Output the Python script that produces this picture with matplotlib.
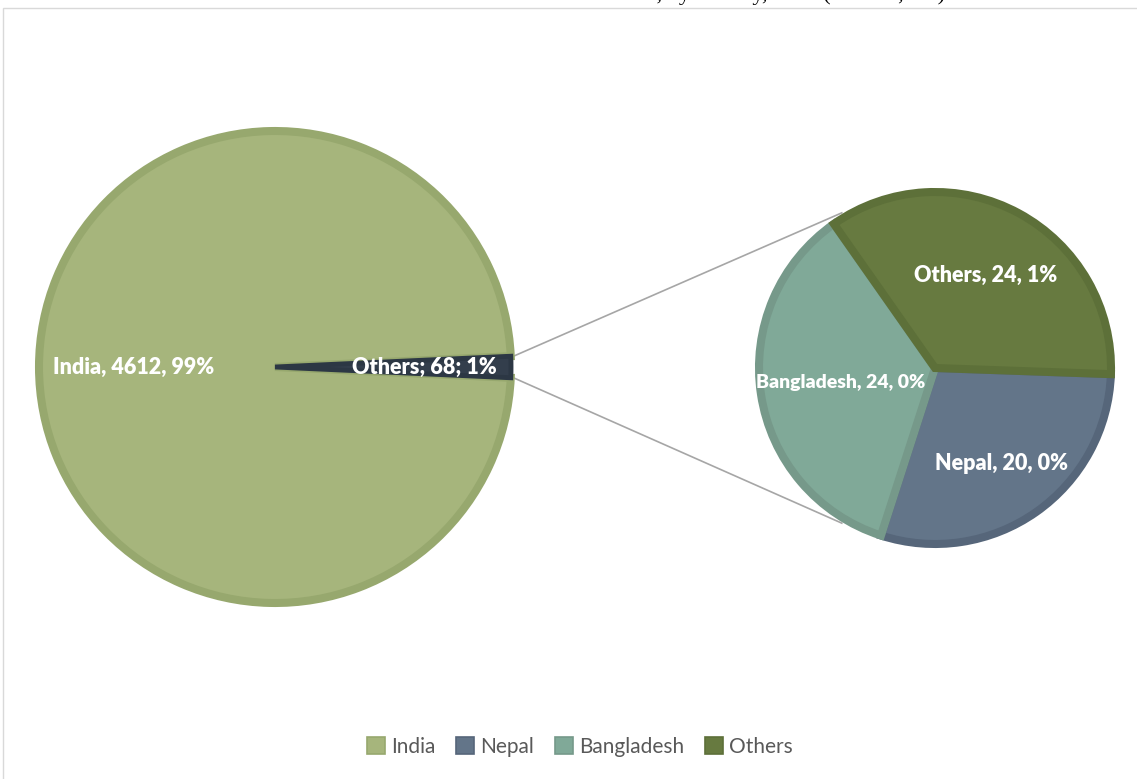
"""Pie-of-pie chart: remittances by country."""

import matplotlib

matplotlib.use("Agg")

import matplotlib.pyplot as plt
import numpy as np
from matplotlib.patches import Patch, Rectangle

W, H = 1137, 779

main_labels = ["Others", "India"]
main_values = [68, 4612]
main_pcts = ["1%", "99%"]
main_texts = ["Others; 68; 1%", "India, 4612, 99%"]

sub_labels = ["Nepal", "Bangladesh", "Others"]
sub_values = [20, 24, 24]
sub_pcts = ["0%", "0%", "1%"]

legend_labels = ["India", "Nepal", "Bangladesh", "Others"]

title = "Remittance inflows, by country, 2014 (in USD, mn)"

fill = {"India": "#A6B57C", "Nepal": "#637589", "Bangladesh": "#80A998", "Others": "#677A40",
        "OthersMain": "#333E4C"}
edge = {"India": "#97A86E", "Nepal": "#56667A", "Bangladesh": "#76998A", "Others": "#5D7039",
        "OthersMain": "#2C3744"}

LABEL_FONT = ["Lato", "DejaVu Sans"]


def set_edges(wedges, keys):
    for w, k in zip(wedges, keys):
        w.set_facecolor(fill[k])
        w.set_edgecolor(edge[k])


def polar(cx, cy, r, deg):
    a = np.deg2rad(deg)
    return cx + r * np.cos(a), cy + r * np.sin(a)


fig = plt.figure(figsize=(W / 100, H / 100), dpi=100)
ax = fig.add_axes([0, 0, 1, 1])

# main pie
mc = (275, H - 367)
mr = 236
start = -main_values[0] / sum(main_values) * 180
mw, _ = ax.pie(main_values, startangle=start, center=mc, radius=mr,
               wedgeprops=dict(linewidth=5.8))
set_edges(mw, ["OthersMain", "India"])
mw[0].set_zorder(3)
mw[0].set_linewidth(3.5)
for w, txt, dist in zip(mw, main_texts, [0.635, 0.60]):
    mid = (w.theta1 + w.theta2) / 2
    x, y = polar(mc[0], mc[1], mr * dist, mid)
    ax.text(x, y, txt, ha="center", va="center", color="white", fontsize=15.5,
            fontweight="heavy", family=LABEL_FONT, zorder=5)

# secondary pie
sc = (935, H - 368)
sr = 176
sw, _ = ax.pie(sub_values, startangle=-2, counterclock=False, center=sc, radius=sr,
               wedgeprops=dict(linewidth=5.8))
set_edges(sw, sub_labels)
for w, lab, val, pct, dist, fs in zip(sw, sub_labels, sub_values, sub_pcts,
                                      [0.66, 0.54, 0.6], [15.5, 14, 15.5]):
    mid = (w.theta1 + w.theta2) / 2
    x, y = polar(sc[0], sc[1], sr * dist, mid)
    ax.text(x, y, f"{lab}, {val}, {pct}", ha="center", va="center", color="white",
            fontsize=fs, fontweight="heavy", family=LABEL_FONT, zorder=5)

# connector lines
ow = mw[0]
for main_ang, sub_ang in [(ow.theta2, 121), (ow.theta1, -121)]:
    x0, y0 = polar(mc[0], mc[1], mr + 3, main_ang)
    x1, y1 = polar(sc[0], sc[1], sr + 5, sub_ang)
    ax.plot([x0, x1], [y0, y1], color="#A6A6A6", lw=1.2, zorder=0)

ax.set_xlim(0, W)
ax.set_ylim(0, H)
ax.set_aspect("equal")
ax.axis("off")

# chart border
ax.add_patch(Rectangle((3, -5), W, H - 8 + 5, fill=False, edgecolor="#D9D9D9", lw=1.0,
                       clip_on=False))

# title mostly cut off at the top edge, as in the source
fig.text(945 / W, 1.0, title, ha="right", va="baseline", fontsize=16,
         family="Liberation Serif", color="black")

handles = [Patch(facecolor=fill[k], edgecolor=edge[k], lw=1.2) for k in legend_labels]
fig.legend(handles, legend_labels, loc="center", bbox_to_anchor=(0.51, 32 / H), ncol=4,
           frameon=False, handlelength=0.85, handleheight=0.85,
           handletextpad=0.3, columnspacing=1.0, prop={"family": LABEL_FONT, "size": 15},
           labelcolor="#595959")

fig.savefig("out.png", dpi=100)
